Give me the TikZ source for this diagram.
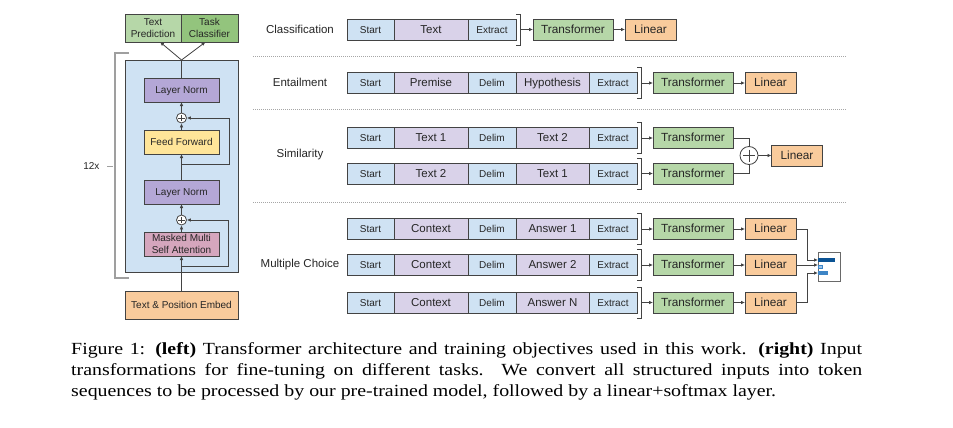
\documentclass[tikz,border=0pt]{standalone}
\usepackage{fontspec}
\setmainfont{Liberation Serif}[FakeStretch=1.17]
\setsansfont{Liberation Sans}
\usetikzlibrary{arrows.meta}

\definecolor{tokblue}{HTML}{CFE2F3}
\definecolor{tokpurple}{HTML}{D9D2E9}
\definecolor{trgreen}{HTML}{B6D7A8}
\definecolor{clsgreen}{HTML}{93C47D}
\definecolor{linorange}{HTML}{F9CB9C}
\definecolor{normpurple}{HTML}{B4A7D6}
\definecolor{ffyellow}{HTML}{FFE599}
\definecolor{attpink}{HTML}{D5A6BD}
\definecolor{edge}{HTML}{434343}
\definecolor{barA}{HTML}{0B5394}
\definecolor{barB}{HTML}{9FC5E8}
\definecolor{barC}{HTML}{3D85C6}

\tikzset{
  box/.style={draw=edge, line width=0.9pt, inner sep=0pt, outer sep=0pt, align=center,
    text=black!85, font=\sffamily\fontsize{10}{12}\selectfont},
  oneline/.style={text height=0.72em, text depth=0pt},
  tok/.style={box, oneline, minimum height=21pt, fill=tokblue},
  seg/.style={box, minimum height=21pt, fill=tokpurple, font=\sffamily\fontsize{11.5}{13}\selectfont, oneline},
  trans/.style={box, minimum width=80pt, minimum height=21pt, fill=trgreen, font=\sffamily\fontsize{11.8}{14}\selectfont, oneline},
  lin/.style={box, minimum width=51pt, minimum height=21pt, fill=linorange, font=\sffamily\fontsize{11.8}{14}\selectfont, oneline},
  layer/.style={box, minimum width=75pt, minimum height=24pt},
  plus/.style={circle, draw=edge, fill=white, line width=0.8pt, inner sep=0pt},
  wire/.style={draw=edge, line width=0.8pt},
  arr/.style={wire, -{Latex[length=4pt,width=3.6pt]}},
  sep/.style={draw=gray!70, line width=0.7pt, dash pattern=on 0.8pt off 1.2pt},
  task/.style={font=\sffamily\fontsize{11.5}{14}\selectfont, text=black!85}
}

\begin{document}
\begin{tikzpicture}[x=1pt, y=-1pt]
    \path[use as bounding box, fill=white] (0,0) rectangle (953,428);

    % Left: the decoder stack
    \node[box, minimum width=113pt, minimum height=212pt, fill=tokblue] (blk) at (181.5,166) {};
    \node[box, minimum width=56pt, minimum height=28pt, fill=trgreen] (pred) at (153,28) {Text\\Prediction};
    \node[box, minimum width=57pt, minimum height=28pt, fill=clsgreen] (tc) at (209.5,28) {Task\\Classifier};
    \node[layer, fill=normpurple, oneline] (ln1) at (181.5,90) {Layer Norm};
    \node[plus, minimum size=10pt] (p1) at (181.5,118) {};
    \node[layer, fill=ffyellow, oneline] (ff) at (181.5,142) {Feed Forward};
    \node[layer, fill=normpurple, oneline] (ln2) at (181.5,192) {Layer Norm};
    \node[plus, minimum size=10pt] (p2) at (181.5,220) {};
    \node[layer, fill=attpink] (attn) at (181.5,244) {Masked Multi\\Self Attention};
    \node[box, oneline, minimum width=113pt, minimum height=28pt, fill=linorange] (emb) at (181.5,305) {Text \& Position Embed};

    \foreach \p in {p1,p2}
        \draw[wire] ([yshift=3.2pt]\p.center) -- ([yshift=-3.2pt]\p.center)
                    ([xshift=-3.2pt]\p.center) -- ([xshift=3.2pt]\p.center);

    \draw[arr] (emb) -- (attn);
    \coordinate (r2) at (181.5,266);
    \draw[arr] (r2) -- ++(46.5,0) |- (p2.east);
    \draw[arr] (attn) -- (p2);
    \draw[arr] (p2) -- (ln2);
    \draw[arr] (ln2) -- (ff);
    \coordinate (r1) at (181.5,164);
    \draw[arr] (r1) -- ++(47.5,0) |- (p1.east);
    \draw[arr] (ff) -- (p1);
    \draw[arr] (p1) -- (ln1);
    \draw[wire] (ln1.north) -- (blk.north);
    \draw[arr] (blk.north) -- ([xshift=7pt]pred.south);
    \draw[arr] (blk.north) -- ([xshift=-4pt]tc.south);

    % 12x bracket
    \draw[gray!75, line width=1.4pt] (129,53) -- (115,53) -- (115,278) -- (129,278);
    \draw[gray!75, line width=0.8pt] (107,166) -- (113,166);
    \node[task, font=\sffamily\fontsize{10}{12}\selectfont, anchor=east] (rep) at (103,166) {12x};

    % Task names
    \node[task] (lcls) at (300,29) {Classification};
    \node[task] (lent) at (300,82) {Entailment};
    \node[task] (lsim) at (300,155) {Similarity};
    \node[task] (lmc) at (300,265) {Multiple Choice};

    % Separators
    \foreach \y in {56,109,202}
        \draw[sep] (253,\y) -- (846,\y);

    % Classification
    \node[tok, minimum width=47pt] (cls-start) at (370.5,29.5) {Start};
    \node[seg, minimum width=74pt] (cls-a) at (431,29.5) {Text};
    \node[tok, minimum width=48pt] (cls-ext) at (492,29.5) {Extract};
    \draw[wire] (516,14) -- (520,14) -- (520,45) -- (516,45);
    \coordinate (cls-br) at (520,29.5);
    \node[trans] (cls-tr) at (573,29.5) {Transformer};
    \node[lin] (cls-lin) at (650.5,29.5) {Linear};
    \draw[arr] (cls-br) -- (cls-tr);
    \draw[arr] (cls-tr) -- (cls-lin);

    % Five-part inputs
    \foreach \r/\y/\ta/\tb in {ent/83/Premise/Hypothesis, sa/138/Text 1/Text 2, sb/173.5/Text 2/Text 1,
                               ma/229/Context/Answer 1, mb/265/Context/Answer 2, mc/302.5/Context/Answer N} {
        \node[tok, minimum width=47pt] (\r-start) at (370.5,\y) {Start};
        \node[seg, minimum width=74pt] (\r-a) at (431,\y) {\ta};
        \node[tok, minimum width=48pt] (\r-delim) at (492,\y) {Delim};
        \node[seg, minimum width=73pt] (\r-b) at (552.5,\y) {\tb};
        \node[tok, minimum width=48pt] (\r-ext) at (613,\y) {Extract};
        \draw[wire] (637,{\y-15.5}) -- (641,{\y-15.5}) -- (641,{\y+15.5}) -- (637,{\y+15.5});
        \coordinate (\r-br) at (641,\y);
        \node[trans] (\r-tr) at (693,\y) {Transformer};
        \draw[arr] (\r-br) -- (\r-tr);
    }

    % Linear heads
    \foreach \r in {ent,ma,mb,mc} {
        \node[lin] (\r-lin) at (770.5,0 |- \r-tr) {Linear};
        \draw[arr] (\r-tr) -- (\r-lin);
    }

    % Similarity: sum of both orders
    \node[plus, minimum size=18pt] (sp) at (749,155.5) {};
    \draw[wire] ([yshift=6pt]sp.center) -- ([yshift=-6pt]sp.center)
                ([xshift=-6pt]sp.center) -- ([xshift=6pt]sp.center);
    \node[lin] (s-lin) at (797,155.5) {Linear};
    \draw[wire] (sa-tr.east) -| (sp.north);
    \draw[wire] (sb-tr.east) -| (sp.south);
    \draw[arr] (sp) -- (s-lin);

    % Multiple choice: softmax over answers
    \node[draw=edge!80, line width=0.8pt, fill=white, minimum width=22pt, minimum height=29pt, inner sep=0pt] (soft) at (829,266.5) {};
    \node[fill=barA, minimum width=17pt, minimum height=4pt, inner sep=0pt, anchor=west] (bar1) at (818,260) {};
    \node[draw=barC, line width=0.5pt, fill=barB, minimum width=4pt, minimum height=3.5pt, inner sep=0pt, anchor=west] (bar2) at (818,266.5) {};
    \node[fill=barC, minimum width=10pt, minimum height=4pt, inner sep=0pt, anchor=west] (bar3) at (818,273) {};
    \draw[arr] (ma-lin.east) -- ++(11,0) |- (bar1.west);
    \draw[arr] (mb-lin.east) -- (mb-lin.east -| bar2.west);
    \draw[arr] (mc-lin.east) -- ++(11,0) |- (bar3.west);

    % Caption
    \node[anchor=base west, text width=791pt, align=justify, inner sep=0pt,
          font=\rmfamily\fontsize{17}{21}\selectfont] (cap) at (71,354)
        {Figure 1: \textbf{(left)} Transformer architecture and training objectives used in this work. \textbf{(right)} Input\linebreak
         transformations for fine-tuning on different tasks. We convert all structured inputs into token\linebreak
         sequences to be processed by our pre-trained model, followed by a linear+softmax layer.};
\end{tikzpicture}
\end{document}
